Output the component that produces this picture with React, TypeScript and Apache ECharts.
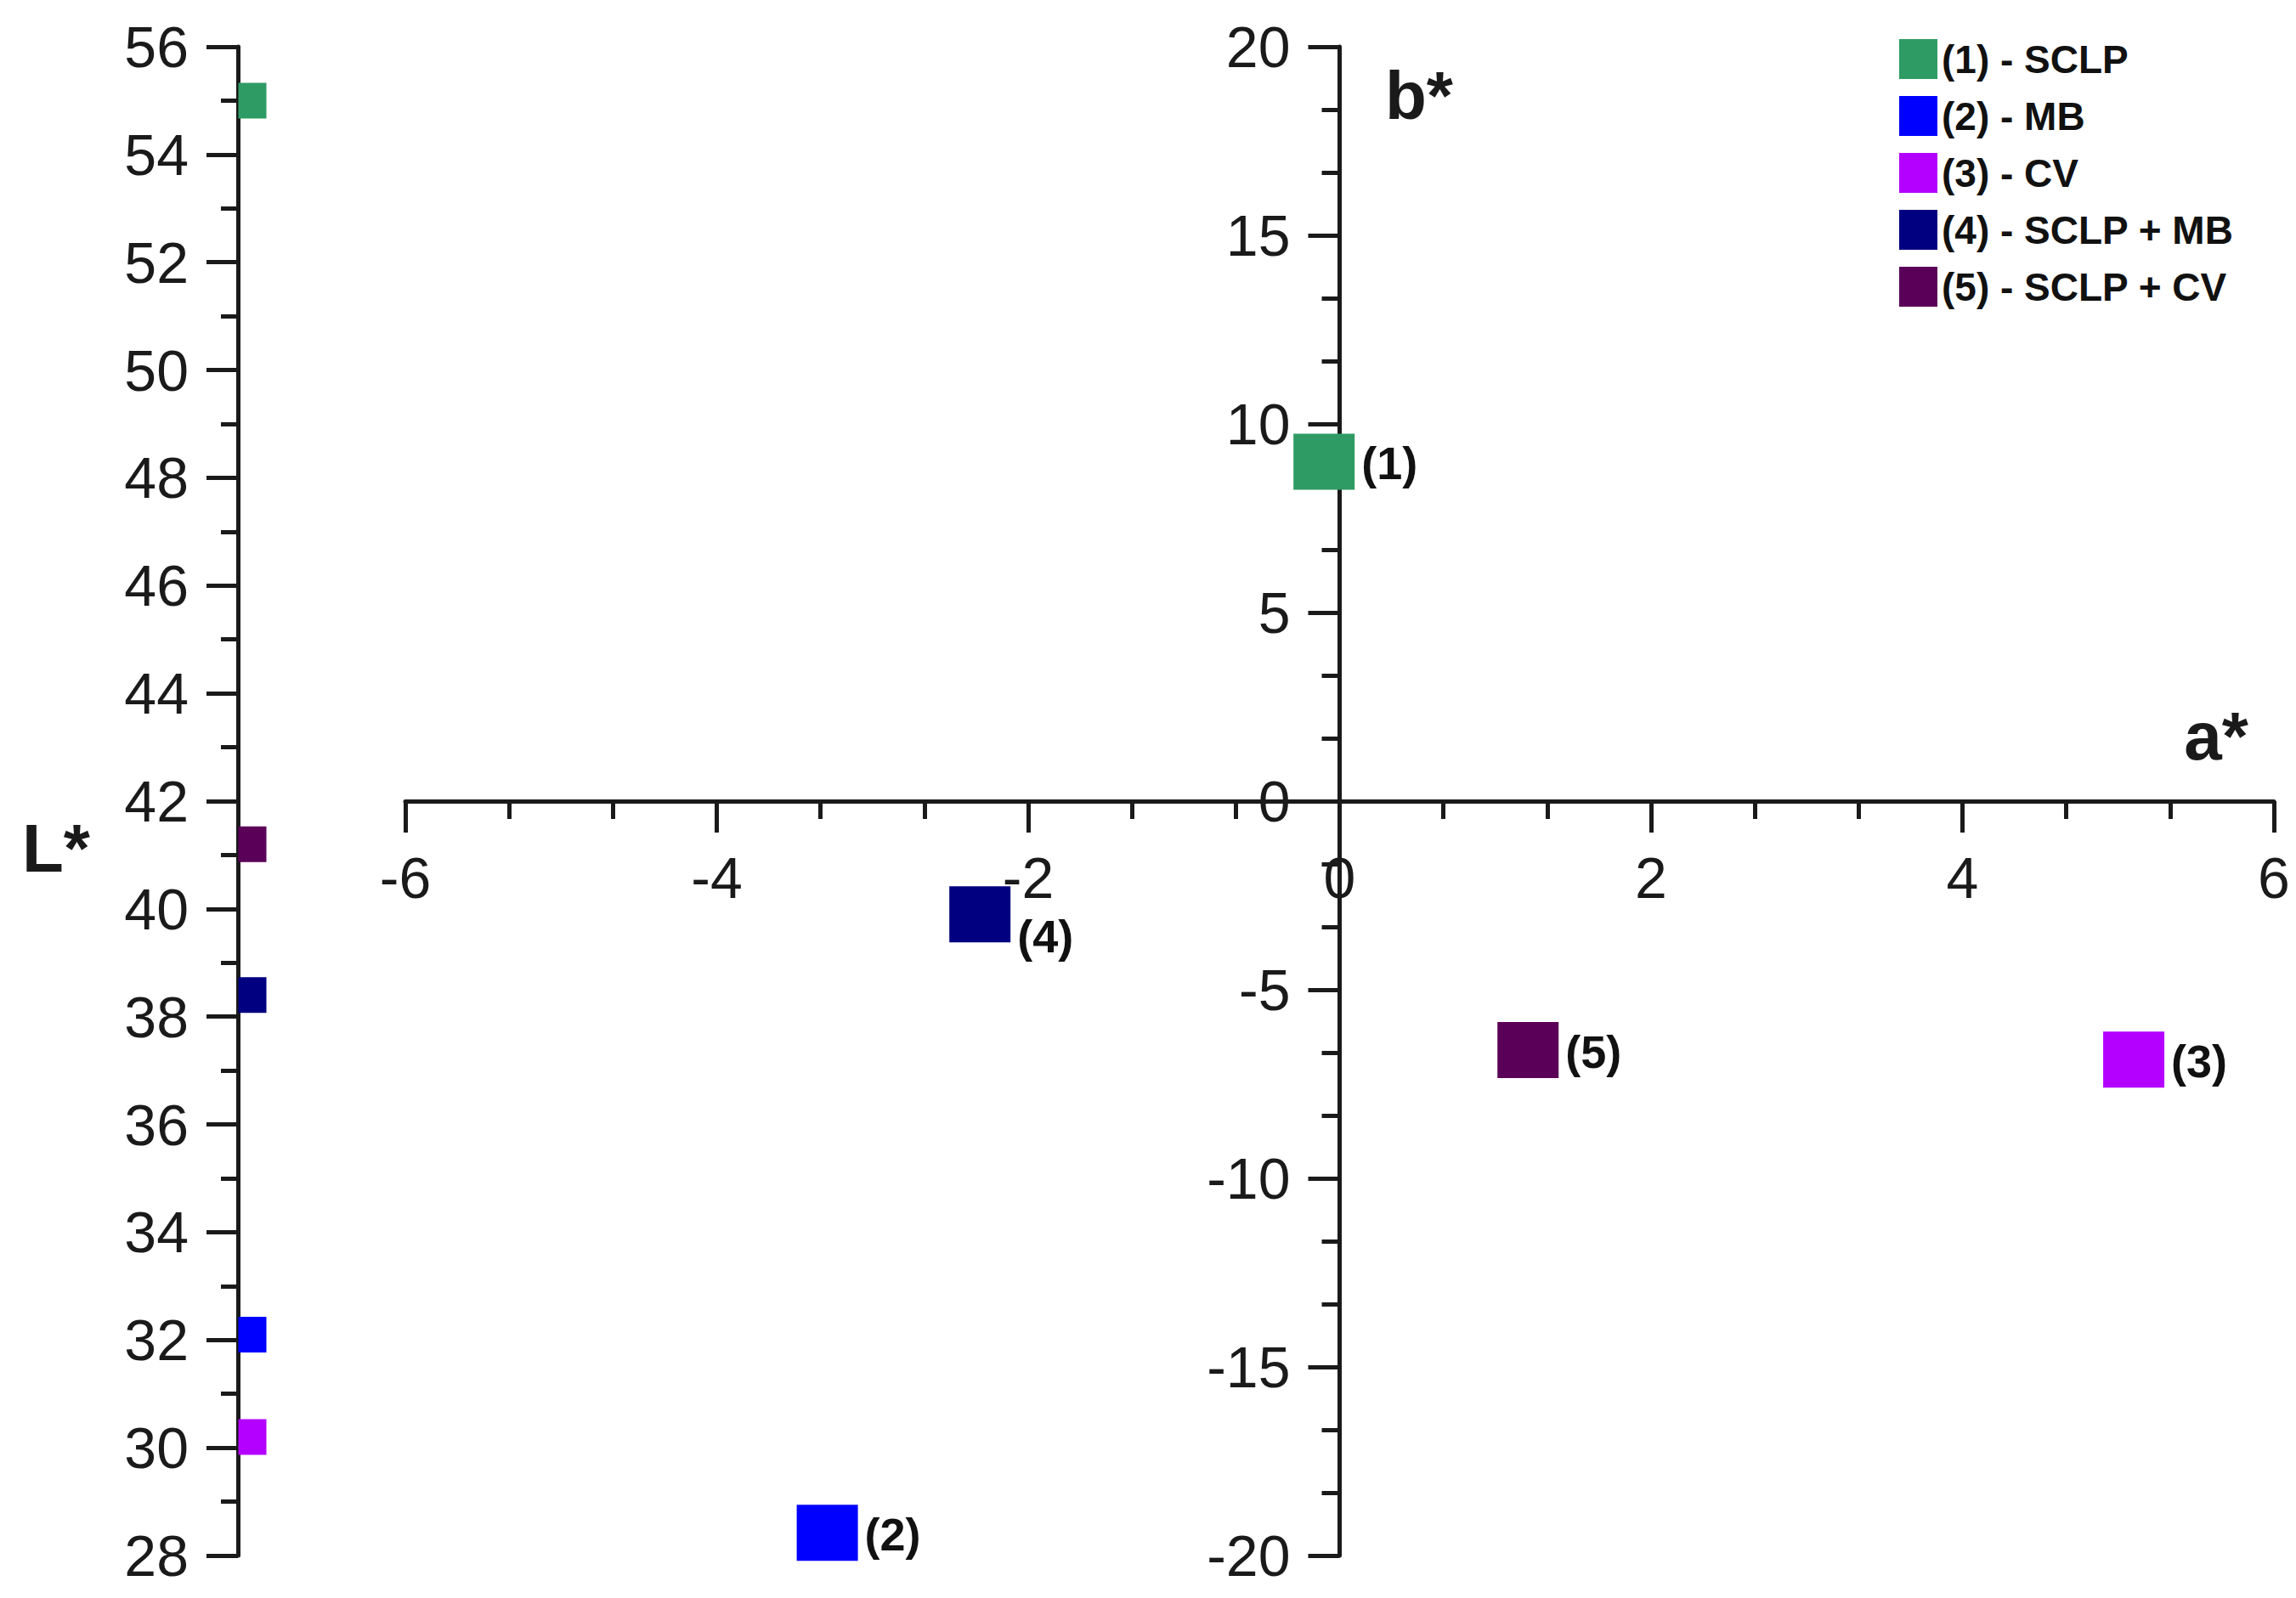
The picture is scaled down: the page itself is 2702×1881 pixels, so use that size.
import React, { useEffect, useRef } from "react";
import * as echarts from "echarts";

// ---- data ----
const sampleNames = ["(1) - SCLP", "(2) - MB", "(3) - CV", "(4) - SCLP + MB", "(5) - SCLP + CV"];
const pointLabels = ["(1)", "(2)", "(3)", "(4)", "(5)"];
const aStar = [-0.1, -3.29, 5.1, -2.31, 1.21];
const bStar = [9.0, -19.4, -6.85, -3.0, -6.6];
const lStar = [55.0, 32.1, 30.2, 38.4, 41.2];
const sampleColors = ["#2e9b64", "#0000ff", "#b400ff", "#000080", "#5b0058"];

const lAxisRange = { min: 28, max: 56, interval: 2 };
const aAxisRange = { min: -6, max: 6, interval: 2 };
const bAxisRange = { min: -20, max: 20, interval: 5 };

const FONT = "'Liberation Sans', Arial, Helvetica, sans-serif";
const INK = "#1a1a1a";

// layout (pixels)
const PLOT_LEFT = 477;
const PLOT_TOP = 55;
const PLOT_W = 2199;
const PLOT_H = 1776;
const L_AXIS_X = 280;

export default function App() {
  const ref = useRef<HTMLDivElement>(null);

  useEffect(() => {
    if (!ref.current) return;
    const chart = echarts.init(ref.current, undefined, { renderer: "svg" });

    // positions of the zero lines inside the a*/b* plane
    const zeroX = PLOT_LEFT + (PLOT_W * (0 - aAxisRange.min)) / (aAxisRange.max - aAxisRange.min);
    const zeroYHeight = (PLOT_H * (bAxisRange.max - 0)) / (bAxisRange.max - bAxisRange.min);

    const lineStyle = { color: INK, width: 5 };
    const axisLine = { show: true, onZero: false, lineStyle };
    const axisTick = { show: true, inside: false, length: 37, lineStyle };
    const labelStyle = { color: INK, fontSize: 68, fontFamily: FONT };
    const hidden = { show: false };

    const abSeries = sampleNames.map((name, i) => ({
      name,
      type: "scatter",
      xAxisIndex: 1,
      yAxisIndex: 1,
      clip: false,
      symbol: "rect",
      symbolSize: [72, 66],
      itemStyle: { color: sampleColors[i], opacity: 1 },
      label: {
        show: true,
        position: "right",
        distance: 8,
        formatter: pointLabels[i],
        fontSize: 54,
        fontWeight: "bold",
        fontFamily: FONT,
        color: "#111",
        offset: i === 3 ? [0, 26] : [0, 2],
      },
      data: [[aStar[i], bStar[i]]],
      z: 5,
    }));

    const lSeries = sampleNames.map((name, i) => ({
      name,
      type: "scatter",
      xAxisIndex: 0,
      yAxisIndex: 0,
      clip: false,
      symbol: "rect",
      symbolSize: [33, 42],
      symbolOffset: [17, 0],
      itemStyle: { color: sampleColors[i], opacity: 1 },
      data: [[0, lStar[i]]],
      z: 5,
    }));

    chart.setOption({
      animation: false,
      backgroundColor: "#ffffff",
      grid: [
        // 0: L* axis
        { left: L_AXIS_X, top: PLOT_TOP, width: 20, height: PLOT_H, outerBoundsMode: "none", containLabel: false },
        // 1: a*/b* plane (data)
        { left: PLOT_LEFT, top: PLOT_TOP, width: PLOT_W, height: PLOT_H, outerBoundsMode: "none", containLabel: false },
        // 2: a* axis (its bottom edge sits on b* = 0)
        { left: PLOT_LEFT, top: PLOT_TOP, width: PLOT_W, height: zeroYHeight, outerBoundsMode: "none", containLabel: false },
        // 3: b* axis (its left edge sits on a* = 0)
        { left: zeroX, top: PLOT_TOP, width: 20, height: PLOT_H, outerBoundsMode: "none", containLabel: false },
      ],
      xAxis: [
        { type: "value", gridIndex: 0, min: 0, max: 1, show: false },
        { type: "value", gridIndex: 1, min: aAxisRange.min, max: aAxisRange.max, show: false },
        {
          type: "value",
          gridIndex: 2,
          position: "bottom",
          min: aAxisRange.min,
          max: aAxisRange.max,
          interval: aAxisRange.interval,
          axisLine,
          axisTick,
          minorTick: { show: true, splitNumber: 3, length: 21, lineStyle },
          splitLine: hidden,
          axisLabel: { ...labelStyle, margin: 56 },
        },
        { type: "value", gridIndex: 3, min: 0, max: 1, show: false },
      ],
      yAxis: [
        {
          type: "value",
          gridIndex: 0,
          position: "left",
          min: lAxisRange.min,
          max: lAxisRange.max,
          interval: lAxisRange.interval,
          axisLine,
          axisTick,
          minorTick: { show: true, splitNumber: 2, length: 20, lineStyle },
          splitLine: hidden,
          axisLabel: { ...labelStyle, margin: 58 },
        },
        { type: "value", gridIndex: 1, min: bAxisRange.min, max: bAxisRange.max, show: false },
        { type: "value", gridIndex: 2, min: 0, max: 1, show: false },
        {
          type: "value",
          gridIndex: 3,
          position: "left",
          min: bAxisRange.min,
          max: bAxisRange.max,
          interval: bAxisRange.interval,
          axisLine,
          axisTick,
          minorTick: { show: true, splitNumber: 3, length: 21, lineStyle },
          splitLine: hidden,
          axisLabel: { ...labelStyle, margin: 58 },
        },
      ],
      legend: {
        data: sampleNames,
        orient: "vertical",
        left: 2235,
        top: 46,
        icon: "rect",
        itemWidth: 45,
        itemHeight: 47,
        itemGap: 20,
        padding: 0,
        selectedMode: false,
        textStyle: { fontSize: 46, fontWeight: "bold", fontFamily: FONT, color: "#111", lineHeight: 47 },
      },
      graphic: [
        {
          type: "text",
          x: 66,
          y: 998,
          style: { text: "L*", fontSize: 80, fontWeight: "bold", fontFamily: FONT, fill: INK, align: "center", verticalAlign: "middle" },
        },
        {
          type: "text",
          x: 2608,
          y: 866,
          style: { text: "a*", fontSize: 80, fontWeight: "bold", fontFamily: FONT, fill: INK, align: "center", verticalAlign: "middle" },
        },
        {
          type: "text",
          x: 1670,
          y: 112,
          style: { text: "b*", fontSize: 80, fontWeight: "bold", fontFamily: FONT, fill: INK, align: "center", verticalAlign: "middle" },
        },
      ],
      series: [...abSeries, ...lSeries],
    });

    return () => chart.dispose();
  }, []);

  return (
    <div
      ref={ref}
      style={{ position: "fixed", left: 0, top: 0, width: 2702, height: 1881, background: "#fff" }}
    />
  );
}
